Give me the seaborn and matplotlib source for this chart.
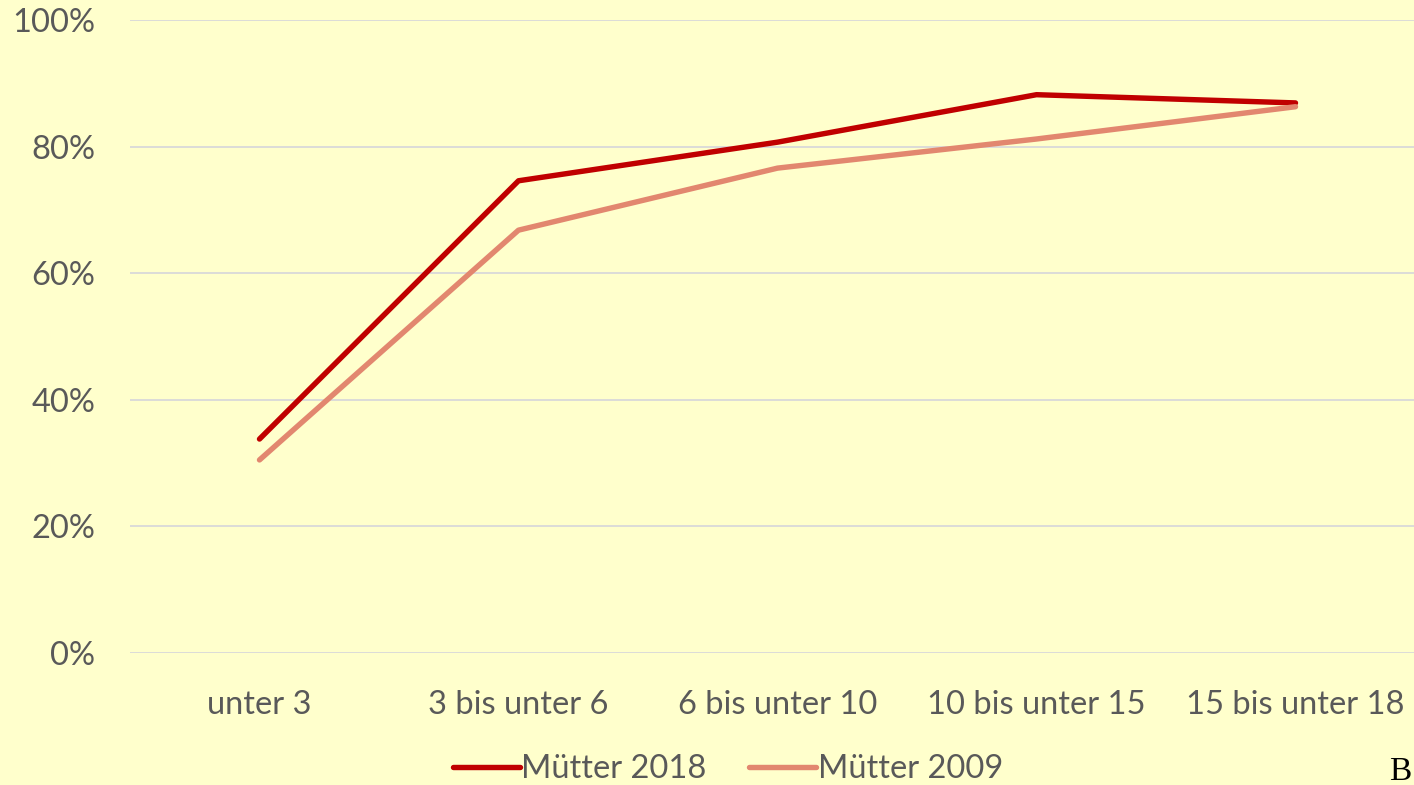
import matplotlib
matplotlib.use("Agg")
import matplotlib.pyplot as plt
import seaborn as sns
import pandas as pd
from matplotlib.ticker import FuncFormatter
from matplotlib.lines import Line2D

categories = ["unter 3", "3 bis unter 6", "6 bis unter 10", "10 bis unter 15", "15 bis unter 18"]
muetter_2018 = [33.8, 74.6, 80.7, 88.2, 86.9]
muetter_2009 = [30.5, 66.8, 76.6, 81.2, 86.3]
series_names = ["Mütter 2018", "Mütter 2009"]
y_ticks = [0, 20, 40, 60, 80, 100]

bg = "#FFFFCC"
text_col = "#595959"
colors = {"Mütter 2018": "#C00000", "Mütter 2009": "#E2876F"}

df = pd.DataFrame({
    "Alter": categories * 2,
    "Wert": muetter_2018 + muetter_2009,
    "Serie": [series_names[0]] * len(categories) + [series_names[1]] * len(categories),
})
df["pos"] = [categories.index(c) for c in df["Alter"]]

sns.set_theme(style="white")
plt.rcParams["font.family"] = ["Lato", "DejaVu Sans"]

fig = plt.figure(figsize=(14.14, 7.85), dpi=100, facecolor=bg)
W, H = 1414, 785
left, right = 130, 1425
top, bottom = 20, 653
ax = fig.add_axes([left / W, 1 - bottom / H, (right - left) / W, (bottom - top) / H])
ax.set_facecolor(bg)

LW = 3.9
sns.lineplot(data=df, x="pos", y="Wert", hue="Serie", palette=colors,
             linewidth=LW, ax=ax, sort=False, legend=False)
for ln in ax.lines:
    ln.set_solid_capstyle("round")
    ln.set_solid_joinstyle("round")

FS = 23.5
ax.set_xlim(-0.5, len(categories) - 0.5)
ax.set_ylim(0, 100)
ax.set_yticks(y_ticks)
ax.yaxis.set_major_formatter(FuncFormatter(lambda v, p: f"{int(v)}%"))
ax.set_xticks(range(len(categories)))
ax.set_xticklabels(categories)
ax.tick_params(axis="both", length=0, labelsize=FS, colors=text_col)
ax.tick_params(axis="y", pad=25)
ax.tick_params(axis="x", pad=27)
ax.grid(axis="y", color="#D9D9D9", linewidth=1.3)
ax.grid(axis="x", visible=False)
for s in ax.spines.values():
    s.set_visible(False)
ax.set_xlabel("")
ax.set_ylabel("")

handles = [Line2D([0], [0], color=colors[n], linewidth=LW, solid_capstyle="round") for n in series_names]
leg = fig.legend(handles, series_names, loc="center", bbox_to_anchor=(728 / W, 1 - 769 / H),
                 ncol=2, frameon=False, fontsize=FS, handlelength=2.05, handletextpad=0.05,
                 columnspacing=1.3, labelcolor=text_col, borderpad=0, borderaxespad=0)

fig.text(1389 / W, 1 - 772 / H, "B", fontsize=24, family="Liberation Serif", color="black",
         ha="left", va="center")

fig.savefig("out.png", dpi=100, facecolor=bg)
